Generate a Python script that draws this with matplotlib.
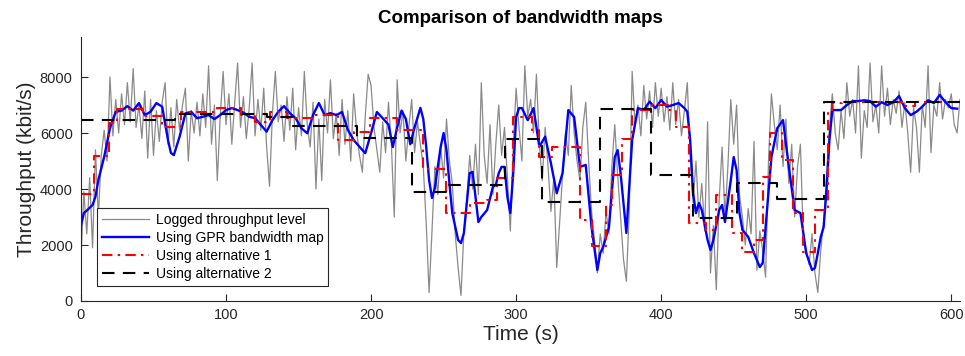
import numpy as np
import matplotlib
matplotlib.use("Agg")
import matplotlib.pyplot as plt

plt.rcParams['font.family'] = ['Liberation Sans', 'DejaVu Sans']

# logged throughput, one sample every 2 s (kbit/s)
grey_v = [
    1500, 3900, 2400, 4400, 1900, 5400, 3000, 5200, 6100, 5000,
    8000, 5900, 7200, 6000, 7400, 6300, 7800, 6400, 8300, 6200,
    7000, 5800, 7500, 5100, 7200, 5200, 6800, 5700, 7100, 7800,
    5600, 6900, 5500, 7200, 6100, 7000, 7600, 5000, 6800, 6000,
    7100, 5900, 7400, 6200, 8400, 5600, 7000, 4300, 6600, 8200,
    6300, 7400, 5600, 7100, 8500, 6200, 7300, 5800, 6900, 8500,
    5900, 7200, 6100, 7600, 5500, 4100, 6700, 8200, 6400, 7000,
    5700, 7300, 6100, 7600, 5400, 6900, 5900, 8200, 6300, 5500,
    7100, 4000, 6500, 4300, 7200, 6000, 7900, 5800, 6700, 5200,
    7200, 5600, 6800, 5000, 7400, 6100, 5200, 4600, 6600, 8100,
    7700, 6200, 5400, 4600, 6400, 5300, 7100, 5600, 3000, 7900,
    6000, 6800, 5000, 6200, 7200, 5300, 6400, 5600, 4800, 2800,
    300, 2500, 4800, 3800, 5500, 4400, 6500, 5000, 4200, 2400,
    1200, 200, 2500, 3600, 5200, 4000, 5600, 3800, 7800, 5200,
    4200, 6300, 3800, 5600, 7000, 5200, 6200, 4400, 2500, 5500,
    7600, 6200, 5000, 8400, 6600, 7200, 6000, 8100, 5600, 4300,
    6200, 4800, 3200, 4400, 1200, 2800, 4500, 6000, 5200, 7700,
    6000, 5000, 4300, 6200, 7100, 5000, 3200, 2200, 1000, 2400,
    1700, 3200, 2400, 4800, 6300, 4500, 3000, 1500, 700, 3200,
    8200, 6300, 7000, 5900, 7700, 6500, 7500, 6200, 7800, 6600,
    7600, 6400, 7300, 6100, 7800, 6300, 7200, 5900, 6800, 7800,
    5200, 3500, 5000, 3000, 4200, 2500, 6400, 1000, 2700, 400,
    3600, 5500, 3000, 4800, 7200, 5600, 7000, 3800, 3000, 2000,
    3300, 2400, 5700, 1100, 2500, 1800, 850, 5000, 7400, 6300,
    5400, 7000, 4800, 6500, 4200, 5600, 3000, 4800, 5600, 2200,
    1800, 1300, 2400, 1000, 300, 1800, 2800, 4500, 6200, 7400,
    6000, 5400, 6800, 5800, 7800, 6600, 7200, 6000, 8400, 5100,
    6800, 6200, 8500, 6400, 7000, 6000, 8400, 6600, 7600, 6300,
    7200, 6700, 7500, 6200, 7100, 6000, 4600, 6900, 6200, 4600,
    7000, 6200, 8400, 5300, 7000, 6600, 7800, 6500, 7200, 6900,
    7400, 6300, 6000, 7200,
]
grey_t = np.arange(len(grey_v)) * 2

# GPR bandwidth map prediction
gpr_t = [0, 2, 4, 8, 10, 12, 16, 20, 24, 28, 32, 36, 40, 44, 48, 52, 56, 58, 60, 62,
         64, 68, 72, 76, 80, 84, 88, 92, 96, 100, 104, 108, 112, 116, 120, 124, 128,
         132, 136, 140, 144, 148, 152, 156, 160, 164, 168, 172, 176, 180, 184, 188,
         192, 196, 200, 204, 208, 212, 215, 218, 221, 224, 227, 230, 234, 236, 238,
         240, 242, 244, 246, 248, 250, 252, 254, 256, 260, 262, 264, 268, 270, 272,
         274, 276, 280, 284, 286, 288, 290, 292, 294, 296, 298, 300, 302, 304, 308,
         312, 316, 320, 324, 328, 332, 336, 340, 344, 348, 352, 356, 358, 360, 364,
         368, 370, 372, 376, 380, 384, 388, 392, 396, 400, 404, 408, 412, 416, 418,
         420, 422, 424, 426, 428, 432, 434, 436, 440, 442, 444, 448, 450, 452, 454,
         456, 460, 464, 468, 470, 472, 476, 480, 484, 488, 492, 496, 500, 504, 506,
         508, 510, 512, 514, 516, 518, 520, 524, 528, 532, 536, 540, 544, 548, 552,
         556, 560, 564, 568, 572, 576, 580, 584, 588, 592, 596, 600, 604]
gpr_v = [2710, 3140, 3230, 3430, 3730, 4320, 5150, 6170, 6760, 6800, 6960, 6800, 7070,
         6640, 6760, 7070, 6940, 6350, 5750, 5290, 5210, 5870, 6700, 6760, 6530, 6580,
         6640, 6500, 6640, 6820, 6890, 6820, 6730, 6580, 6530, 6290, 6050, 6460, 6760,
         6960, 6710, 6530, 6170, 5990, 6640, 7070, 6640, 6710, 6640, 6750, 6110, 5750,
         5510, 5280, 6000, 6750, 6530, 6300, 5500, 6200, 6800, 6500, 5600, 6200, 6900,
         6500, 5510, 4320, 3680, 4040, 4800, 5510, 6000, 5390, 4210, 3140, 2180, 2070,
         2430, 4570, 4610, 3710, 2820, 3000, 3250, 4080, 4140, 4570, 4790, 4790, 3710,
         3140, 4570, 6570, 6890, 6890, 6460, 6890, 5510, 5870, 4920, 3850, 4570, 6820,
         6570, 4790, 4860, 2640, 1110, 1710, 1930, 2640, 5140, 5390, 4570, 2430, 5750,
         6890, 6820, 7120, 6890, 7180, 6940, 7000, 7070, 6890, 6760, 5750, 3850, 3140,
         3500, 3250, 2180, 1820, 2180, 3250, 3430, 2820, 4320, 5140, 4680, 3140, 2540,
         2290, 1710, 1210, 1360, 2640, 5140, 6170, 6460, 4790, 3250, 3140, 1710, 1110,
         1180, 1710, 2290, 2640, 3960, 5750, 6820, 6820, 6820, 7000, 7140, 7140, 7170,
         7140, 6940, 7100, 7000, 7100, 7320, 6890, 6640, 6760, 6940, 7170, 7070, 7360,
         7100, 6890, 6870]

# alternative 1: piecewise-constant map (start time of each level)
alt1_t = [0, 9, 19, 25, 43, 56, 69, 94, 110, 120, 130, 142, 159, 177, 188, 199, 218,
          236, 252, 268, 280, 287, 298, 311, 316, 325, 344, 352, 362, 366, 373, 380,
          394, 405, 410, 419, 431, 438, 449, 456, 464, 470, 475, 483, 491, 498, 506,
          515, 518, 525, 566, 575]
alt1_v = [3820, 5190, 6350, 6850, 6610, 6210, 6760, 6890, 6650, 6390, 6750, 6530, 6650,
          5750, 6040, 6530, 6100, 4700, 3140, 3500, 3600, 4390, 6570, 6100, 5140, 5500,
          2890, 1960, 3430, 4500, 5780, 6820, 7000, 6820, 6210, 2790, 2540, 3790, 2430,
          1760, 2180, 4430, 6000, 5040, 3140, 1760, 3250, 6820, 7070, 7100, 6950, 7100]

# alternative 2: coarser piecewise-constant map
alt2_t = [0, 65, 128, 146, 190, 228, 252, 292, 318, 358, 393, 422, 452, 480, 512]
alt2_v = [6460, 6670, 6570, 6250, 5820, 3890, 4150, 5790, 3540, 6860, 4500, 2960, 4200,
          3650, 7100]
t_end = 606

fig = plt.figure(figsize=(9.65, 3.56), dpi=100)
ax = fig.add_axes([0.0839, 0.1545, 0.9109, 0.7416])

ax.plot(grey_t, grey_v, color='#8a8a8a', lw=0.9, label='Logged throughput level')
ax.plot(gpr_t, gpr_v, color='#0000ff', lw=1.7, label='Using GPR bandwidth map')
ax.step(alt1_t + [t_end], alt1_v + [alt1_v[-1]], where='post', color='#ff0000',
        lw=1.5, dashes=(5, 2.5, 1.2, 2.5), label='Using alternative 1')
ax.step(alt2_t + [t_end], alt2_v + [alt2_v[-1]], where='post', color='black',
        lw=1.5, dashes=(6, 4), label='Using alternative 2')

ax.set_xlim(0, 606)
ax.set_ylim(0, 9430)
ax.set_xticks([0, 100, 200, 300, 400, 500, 600])
ax.set_yticks([0, 2000, 4000, 6000, 8000])

for side in ['top', 'right']:
    ax.spines[side].set_visible(False)
for side in ['left', 'bottom']:
    ax.spines[side].set_color('#262626')
    ax.spines[side].set_linewidth(0.8)
ax.tick_params(direction='in', length=5, width=0.8, colors='#262626',
               labelsize=10.5)
ax.tick_params(axis='y', pad=6)
ax.tick_params(axis='x', pad=5)

ax.set_xlabel('Time (s)', fontsize=15, color='#262626', labelpad=2)
ax.set_ylabel('Throughput (kbit/s)', fontsize=15, color='#262626', labelpad=3)
ax.set_title('Comparison of bandwidth maps', fontsize=13.5, fontweight='bold',
             pad=10)

leg = ax.legend(loc='lower left', bbox_to_anchor=(0.018, 0.057), borderaxespad=0,
                fancybox=False, framealpha=1, edgecolor='#262626', fontsize=10,
                handlelength=3.4, labelspacing=0.3, borderpad=0.35,
                handletextpad=0.5)
leg.get_frame().set_linewidth(0.8)

fig.savefig('out.png', dpi=100)
